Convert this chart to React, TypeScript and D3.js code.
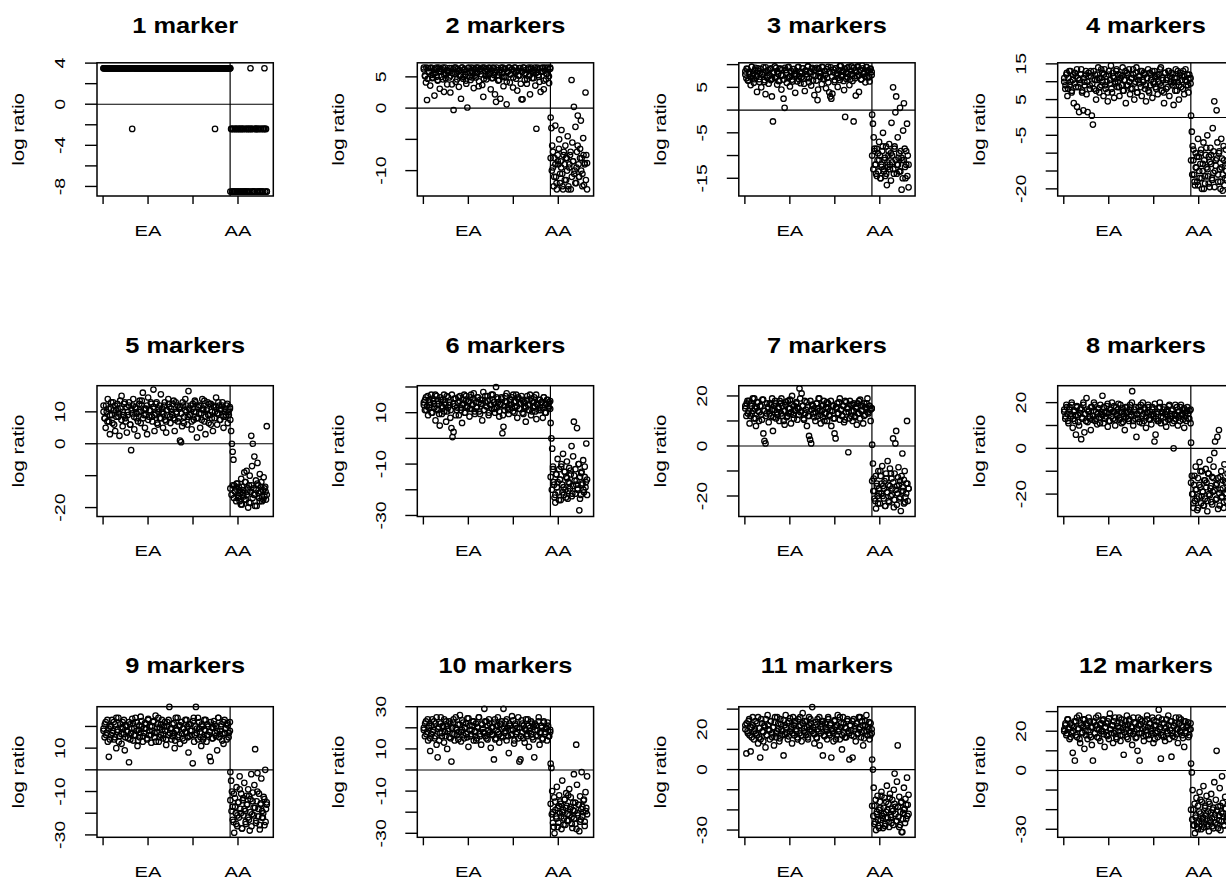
import React from "react";
import * as d3 from "d3";

// ---------- data ----------
const titles = ["1 marker", "2 markers", "3 markers", "4 markers", "5 markers", "6 markers",
  "7 markers", "8 markers", "9 markers", "10 markers", "11 markers", "12 markers"];

const xTickValues = [0, 100, 200, 300];
const xTickLabels = ["", "EA", "", "AA"];
const nEASamples = 282;
const nTotalSamples = 364;

const yLims: [number, number][] = [
  [-8.93, 4.03], [-14.06, 7.25], [-18.9, 10.4], [-22, 15.3],
  [-22.8, 18.2], [-30.4, 20.5], [-28.2, 24.1], [-29.8, 27.4],
  [-31.1, 29.1], [-31.9, 30], [-33.6, 31.2], [-34.1, 32.5],
];
const yTicks: number[][] = [
  [-8, -6, -4, -2, 0, 2, 4], [-10, -5, 0, 5], [-15, -10, -5, 0, 5, 10], [-20, -15, -10, -5, 0, 5, 10, 15],
  [-20, -10, 0, 10], [-30, -20, -10, 0, 10, 20], [-20, -10, 0, 10, 20], [-20, -10, 0, 10, 20],
  [-30, -20, -10, 0, 10, 20], [-30, -20, -10, 0, 10, 20, 30], [-30, -20, -10, 0, 10, 20, 30], [-30, -20, -10, 0, 10, 20, 30],
];
const yLabels: number[][] = [
  [4, 0, -4, -8], [5, 0, -10], [5, -5, -15], [15, 5, -5, -20],
  [10, 0, -20], [10, -10, -30], [20, 0, -20], [20, 0, -20],
  [10, -10, -30], [30, 10, -10, -30], [20, 0, -30], [20, 0, -30],
];

const runs = (r: [number, number][]) => r.flatMap(([v, c]) => Array(c).fill(v) as number[]);

// panel 1
const p1EA = runs([[3.5, 27], [-2.4, 1], [3.5, 77], [-2.4, 1], [3.5, 14]]);
const p1EAb = runs([[3.5, 100]]);
const p1AA = [3.5, -2.4, -8.5, -8.5, -2.4, -8.5, -2.4, -2.4, -8.5, -2.4, -8.5, -8.5, -2.4, -8.5, -2.4, -8.5,
  -2.4, -2.4, -8.5, -8.5, -2.4, -8.5, -2.4, -8.5, -8.5, -2.4, 3.5, -2.4, -8.5, -2.4, -8.5, -8.5, -2.4, -2.4,
  -8.5, -2.4, -8.5, -2.4, -8.5, -8.5, -2.4, -8.5, -2.4, -2.4, 3.5, -8.5, -2.4, -8.5];
const p1AAb = [-8.5, -2.4, -2.4, -8.5, -8.5, -2.4, -8.5, -2.4, -2.4, -8.5, -2.4, -8.5, -8.5, -2.4, -8.5, -2.4,
  -2.4, -8.5, -2.4, -8.5, -8.5, -2.4, -2.4, -8.5, -2.4, -8.5, -2.4, -8.5, -8.5, -2.4, -2.4, -8.5];

// panel 2
const p2EA = [6.5, 5.2, 4.1, 1.3, 6.4, 5.8, 3.6, 6.5, 4.8, 5.5, 2.0, 6.3, 5.0, 4.4, 6.5, 3.1, 5.9, 6.2, 4.6, 2.6,
  6.5, 5.4, 3.8, 6.0, 4.9, 2.5, 6.4, 5.6, -0.3, 6.5, 4.2, 5.7, 6.3, 3.4, 5.1, 1.5, 6.5, 4.7, 6.1, 5.3,
  3.9, 0.1, 6.4, 5.0, 4.5, 6.5, 5.8, 3.2, 6.2, 4.9, 5.6, 6.5, 4.3, 5.9, 6.3, 3.7, 1.8, 6.5, 5.2, 4.6,
  6.0, 5.5, 6.4, 3.0, 4.8, 6.5, 5.3, 2.2, 1.0, 6.1, 4.4, 5.7, 1.5, 6.5, 5.0, 3.5, 6.3, 4.9, 0.6, 5.8,
  6.5, 4.1, 5.4, 6.2, 3.3, 5.9, 6.5, 4.7, 2.8, 6.0, 5.2, 6.4, 1.4, 1.4, 6.5, 4.5, 5.6, 3.9, 6.3, 5.1,
  2.2, 6.5, 4.8, 5.7, 6.1, 3.6, -3.3, 6.5, 5.3, 4.2, 2.6, 6.4, 5.9, 3.0, 6.5, 4.6, 5.5, 6.2, 4.0, 6.5];
const p2EAb = [6.2, 5.1, 6.5, 4.7, 5.8, 6.4, 5.3, 4.9, 6.1, 5.6, 6.5, 4.5, 5.9, 6.3, 5.0, 6.5, 5.4, 4.8, 6.0, 5.7,
  6.4, 5.2, 3.8, 6.2, 5.5, 6.5, 4.6, 5.9, 6.1, 5.3, 6.5, 5.0, 6.3, 4.4, 5.8, 6.5, 5.6, 6.0, 4.9, 6.4,
  5.2, 6.5, 5.7, 3.5, 6.2, 5.4, 6.5, 4.7, 5.9, 6.3, 5.1, 6.5, 5.5, 6.0, 4.8, 6.4, 5.8, 6.5, 5.3, 4.5,
  6.1, 5.6, 6.5, 5.0, 6.3, 4.2, 5.9, 6.5, 5.4, 6.2, 4.9, 6.5, 5.7, 6.0, 5.2, 6.4, 3.9, 5.8, 6.5, 5.5,
  6.1, 4.6, 6.5, 5.3, 6.3, 5.9, 4.8, 6.5, 5.6, 6.2, 5.0, 6.4, 5.8, 6.5, 4.4, 6.0, 5.5, 6.5, 5.1, 6.3];
const p2AA = [-1.5, -3.2, -6, -9.5, -12.5, -8, -2.8, -11, -13, -7.5, -9, -5, -12, -8.5, -3.5, -10.5, -13, -7, -9, -6,
  -11.5, -8, -4.5, -12.5, -9.5, -7.5, -13, 4.5, -5.5, -8.5, 0.2, -10, -3, -12, -7, -1.2, -9, -11, -6.5, -2,
  -8, -10.5, -4.8, -12.3, -8.8, 2.5, -7.5, -13];
const p2AAb = [-8, -10, -7, -11, -9, -12, -8.5, -6.5, -10.5, -9.5, -12.5, -7.5, -11.5, -8, -10, -13, -9, -7, -11, -8.5,
  -10.5, -12, -9.5, -6, -11, -8, -10, -12.5, -7.5, -9, -11.5, -8.8];

// panel 3
const p3EA = [8.5, 7, 9, 6.5, 8, 5.5, 9.5, 7.5, 6, 8.8, 7.2, 4, 9.2, 6.8, 8.2, 5, 7.8, 9.4, 6.2, 3.5,
  8.6, 7.4, 5.8, 9, 6.6, 3, -2.5, 8.4, 7, 9.3, 5.6, 8, 6.4, 9.1, 4.5, 7.6, 2.5, 0.5, 8.8, 6,
  9.4, 7.2, 5.2, 8.3, 6.7, 9, 7.9, 3.8, 8.6, 6.3, 9.5, 7.5, 5.9, 8.1, 9.2, 6.9, 4.2, 8.7, 7.3, 9.6,
  6.1, 8.4, 5.4, 9.3, 7.7, 3.3, 8.9, 6.5, 2.2, 9.1, 7.4, 8.2, 5.7, 9.4, 6.8, 8.6, 4.8, 7.1, 9.5, 3.9,
  3, 2.5, 3.6, 8.3, 6.2, 9.2, 7.6, 5.1, 8.8, 6.6, 9.7, 7.3, 8.5, 4.4, -1.5, 6.9, 9.3, 8, 5.5, 7.8,
  9.6, 6.4, -2.5, 8.7, 3.2, 7.5, 9.4, 4, 8.9, 6.7, 9.8, 7.9, 8.4, 6.1, 9.5, 7.2, 8.8, 6.3, 9.1, 7.7];
const p3EAb = [7.8, 9.1, 6.5, 8.4, 7.2, 9.5, 8.0, 6.8, 9.3, 7.5, 8.7, 6.2, 9.0, 7.9, 8.3, 6.6, 9.4, 7.1, 8.8, 7.6,
  9.2, 6.9, 8.1, 9.6, 7.3, 8.5, 6.4, 9.1, 7.7, 8.9, 6.7, 9.3, 8.2, 7.0, 9.5, 7.4, 8.6, 6.3, 9.0, 8.0,
  7.6, 9.4, 6.8, 8.4, 7.2, 9.2, 5.8, 8.7, 7.9, 9.6, 7.0, 8.3, 9.1, 6.5, 8.8, 7.5, 9.3, 4.5, 8.1, 7.3,
  9.5, 6.9, 8.6, 7.8, 9.0, 6.1, 8.4, 9.4, 7.4, 8.9, 6.6, 9.2, 8.0, 7.1, 9.7, 7.7, 8.5, 6.4, 9.1, 8.2,
  7.3, 9.5, 6.7, 8.7, 7.9, 9.3, 7.0, 8.3, 9.6, 7.6, 8.8, 6.8, 9.2, 8.1, 7.4, 9.4, 8.6, 7.2, 9.0, 8.4];
const p3AA = [-1, -3, -6, -9, -12, -14, -8.5, -11, -13.5, -7, -10, -15, -12, -9, -5, -13, -11, -14.5, -8, -16.5,
  -12.5, -10, -7.5, -13, -9.5, -2.8, -11.5, 5, -14, -8, -0.5, 3, -12, -6, -10.5, -13.5, 0.5, -9, -17.5, -11,
  -4.5, 1.5, -8.5, -15, -12, -3, -10, -17];
const p3AAb = [-10, -13, -8.5, -12, -14.5, -9.5, -11, -15, -12.5, -8, -13.5, -10.5, -14, -11.5, -9, -12, -15.5, -10, -13, -8.5,
  -11, -14, -12, -9.5, -13.5, -10.5, -15, -11, -12.5, -9, -14.5, -12];

// panel 4
const p4EA = [10, 8, 12, 6, 11, 9, 13, 7, 10.5, 4, 12.5, 8.5, 3, 11, 1.5, 9.5, 13.5, 7.5, 2, 10,
  12, 6.5, 1.5, 11.5, 9, 13, 0.5, -2, 8, 12, 5, 10.5, 14, 7, 11, 9, 12.5, 6, 13.5, 8,
  10, 4.5, 12, 9.5, 14.5, 7, 11.5, 5.5, 10, 13, 8.5, 12, 6, 11, 9, 14, 7.5, 10.5, 4, 12.5,
  9, 13.5, 6.5, 11, 8, 12, 5, 10, 14, 7, 11.5, 9.5, 13, 6, 10.5, 12.5, 8, 4.5, 11, 13.5,
  7, 9, 12, 5.5, 10, 13, 8.5, 11.5, 6.5, 12, 9.5, 14, 7.5, 10.5, 4, 12.5, 8, 11, 13, 6,
  10, 12.5, 9, 3.5, 11, 13.5, 7.5, 10, 5, 12, 8.5, 11.5, 13, 6.5, 10.5, 9, 12, 7, 11, 9.5];
const p4EAb = [11, 9, 12.5, 8, 13, 10, 7.5, 12, 9.5, 11.5, 13.5, 8.5, 10.5, 12, 7, 11, 9, 13, 10, 12.5,
  8, 11.5, 9.5, 13, 10.5, 7.5, 12, 11, 8.5, 13.5, 10, 12, 9, 11.5, 7, 13, 10.5, 8, 12.5, 11,
  9.5, 13.5, 10, 8.5, 12, 11.5, 7.5, 10.5, 13, 9, 12, 10, 8, 11, 13.5, 9.5, 12.5, 7, 10.5, 11.5,
  8.5, 13, 10, 12, 9, 11, 7.5, 12.5, 10.5, 13, 9.5, 11.5, 8, 12, 10, 13.5, 9, 11, 7, 12.5,
  10.5, 8.5, 13, 11.5, 9.5, 12, 10, 7.5, 11, 13, 9, 12.5, 10.5, 8, 11.5, 13.5, 10, 9, 12, 11];
const p4AA = [0.5, -4, -8, -12, -16, -19, -10, -14, -18, -6, -11, -17, -13, -9, -20, -15, -7, -12, -18.5, -10.5,
  -14, -5, -16.5, -11, -19.5, -8.5, -13, -17, -3, -9.5, 4.5, -15, -12, 2, -7, -18, -10, -14.5, -20, -6,
  -11.5, -16, -8, -19, -13.5, -9, -17.5, -12];
const p4AAb = [-12, -16, -9, -18, -14, -11, -19, -15, -10, -17, -13, -20, -16.5, -8.5, -14.5, -18.5, -12.5, -10.5, -17.5, -15.5,
  -19.5, -13.5, -11.5, -16, -9.5, -18, -14, -20.5, -12, -17, -15, -13];

// panel 5
const p5EA = [12, 8, 5, 10, 14, 7, 3, 11, 9, 13, 6, 4, 10.5, 12.5, 8.5, 2.5, 11, 15, 5.5, 9,
  13, 7, 3.5, 10, 12, 6, -2, 9.5, 14, 4.5, 11.5, 8, 2.5, 10, 13.5, 6.5, 12, 16, 9, 5,
  11, 3, 14.5, 8.5, 10.5, 12.5, 7, 17, 4, 9.5, 13, 6, 11, 8, 15.5, 10, 5, 12, 7.5, 3.5,
  9, 14, 11.5, 6.5, 10, 12.5, 8, 4, 13, 9.5, 7, 11, 1, 0.5, 5.5, 12, 8.5, 14, 10, 6,
  16.5, 9, 12, 4.5, 11, 7.5, 13.5, 10, 2, 8, 12, 5, 9.5, 14, 11, 7, 3, 10.5, 13, 6.5,
  9, 12.5, 8, 4, 11.5, 10, 14.5, 6, 9.5, 12, 7.5, 11, 13, 5, 10, 8.5, 12, 6.5, 9, 11.5];
const p5EAb = [10, 8, 12, 7, 11, 9, 13, 6.5, 10.5, 12, 8.5, 11, 9.5, 13.5, 7.5, 10, 12.5, 8, 11.5, 9,
  13, 6, 10.5, 12, 8.5, 11, 9.5, 7, 12.5, 10, 13.5, 8, 11, 9, 12, 7.5, 10.5, 13, 8.5, 11.5,
  9, 12.5, 6.5, 10, 12, 8, 11, 9.5, 13, 7, 10.5, 12.5, 8.5, 11, 9, 13.5, 7.5, 10, 12, 8,
  11.5, 9.5, 13, 6.5, 10.5, 12, 8.5, 11, 9, 7, 12.5, 10, 13, 8, 11.5, 9.5, 12, 7.5, 10.5, 13.5,
  8.5, 11, 9, 12.5, 6, 10, 12, 8, 11.5, 9.5, 13, 7.5, 10.5, 12, 8.5, 11, 9, 12.5, 10, 11];
const p5AA = [7.5, 4, 0, -2.5, -5, -13, -15, -14, -12.5, -16, -17, -13.5, -18, -15.5, -11, -19, -14.5, -16.5, -9, -12,
  -17.5, -8.5, -15, -20, -13, -10, -18.5, 2.5, -7, 0, -14, -4, -16, -11.5, -19.5, -6, -13, -17, -9.5, -15,
  -12, -18, -14.5, -10.5, -16.5, -13.5, -17.5, 5.5];
const p5AAb = [-14, -16, -13, -17, -15, -18, -12.5, -16.5, -14.5, -19, -13.5, -15.5, -17.5, -12, -16, -14, -18.5, -15, -13, -17,
  -16, -19.5, -14.5, -12.5, -15.5, -18, -13.5, -16.5, -17.5, -14, -15, -16];

// panel 6
const p6EA = [14, 11, 16, 12.5, 9, 15, 13, 17, 10, 14.5, 12, 7, 16.5, 11, 13.5, 5, 15, 9.5, 12, 17,
  14, 6.5, 10.5, 16, 13, 8, 4, 0.5, 2.5, 12.5, 15.5, 11, 14, 9, 16.5, 12, 6, 13.5, 17, 10,
  15, 12, 14.5, 8.5, 16, 11.5, 13, 17.5, 9.5, 14, 12, 16, 10.5, 15, 13.5, 7, 18, 11, 14, 12.5,
  16.5, 9, 15, 13, 11.5, 17, 14, 10, 20, 12, 15.5, 8.5, 13, 16, 2, 4.5, 11, 14.5, 17.5, 12,
  9.5, 15, 13, 16, 10.5, 14, 12, 17, 8, 15.5, 11.5, 13.5, 16.5, 10, 14, 12.5, 6.5, 15, 13, 11,
  17, 9, 14.5, 12, 16, 10.5, 7.5, 13.5, 15, 12, 11, 14, 8, 16, 13, 10, 15, 12.5, 14, 11.5];
const p6EAb = [13, 15, 11, 16.5, 12, 14, 10, 15.5, 13.5, 17, 11.5, 14.5, 9.5, 16, 12.5, 15, 10.5, 13, 16.5, 12,
  14, 11, 17, 13.5, 15.5, 9, 12, 16, 14.5, 11, 13, 15, 10, 16.5, 12.5, 14, 11.5, 17, 13, 15.5,
  10.5, 12, 16, 14, 9.5, 13.5, 15, 11, 16.5, 12.5, 14.5, 10, 13, 17, 15, 11.5, 12, 16, 14, 10.5,
  13.5, 15.5, 9, 12.5, 16.5, 14, 11, 13, 15, 12, 17, 10, 14.5, 12.5, 16, 11.5, 13.5, 15, 9.5, 14,
  12, 16.5, 11, 13, 15.5, 10.5, 14, 12.5, 17, 13, 11, 15, 14, 12, 16, 10, 13.5, 15, 12, 14.5];
const p6AA = [6, 0, -4, -11, -17, -23, -25, -14, -19, -8, -21, -12, -16, -24, -10, -18, -6, -22, -13, -20,
  -15, -9, -23.5, -17, -11.5, -19.5, -14, -3, -21.5, -7, 6.5, -16.5, -12, -18, 4, -20, -10, -28, -15, -22,
  -13, -17.5, -8.5, -21, -11, -19, -2, -16];
const p6AAb = [-15, -20, -12, -18, -22, -14, -17, -24, -16, -11, -21, -19, -13, -23, -15.5, -20.5, -17.5, -12.5, -22.5, -18.5,
  -14.5, -21.5, -16.5, -19.5, -10, -23.5, -13.5, -18, -20, -15, -17, -22];

// panel 7
const p7EA = [16, 12, 18, 14, 9, 17, 13, 19, 11, 15, 8, 17.5, 14, 10, 16, 12.5, 18.5, 5, 2, 1,
  13, 15.5, 9.5, 17, 12, 14.5, 6, 16, 18, 11, 13.5, 15, 10, 17, 19, 12, 14, 8.5, 16.5, 11.5,
  18, 13, 15, 9, 20, 12.5, 16, 14, 17.5, 10.5, 15, 23, 13.5, 21, 16, 11, 18, 14.5, 8, 12,
  4, 2.5, 1, 16.5, 13, 15, 10, 17, 12, 19, 14, 9, 16, 11.5, 18, 13, 15.5, 10, 17, 12.5,
  14, 8, 16, 11, 5, 3, 15, 13, 17.5, 10.5, 14.5, 12, 16, 9.5, 18, 13.5, 15, -2.5, 11, 16.5,
  14, 10, 17, 12, 15.5, 8.5, 13, 18, 11, 16, 14.5, 9, 17, 12.5, 15, 19, 13, 16, 10, 15];
const p7EAb = [15, 17, 13, 18, 12, 16, 14, 19, 11, 15.5, 17.5, 13.5, 16, 10.5, 18.5, 14, 12, 17, 15, 13,
  16.5, 19, 11.5, 14.5, 17, 12.5, 15.5, 18, 13, 16, 10, 14, 17.5, 12, 15, 18.5, 13.5, 16.5, 11, 14.5,
  17, 15, 12.5, 19, 14, 16, 10.5, 13, 17.5, 15.5, 12, 18, 14.5, 16, 11.5, 13.5, 17, 15, 19, 12.5,
  14, 16.5, 10, 13, 17.5, 15, 12, 18, 14, 16, 11, 15.5, 17, 13, 19, 14.5, 12, 16, 10.5, 17.5,
  15, 13.5, 18, 12, 16.5, 14, 11.5, 15, 17, 13, 18.5, 14, 16, 12, 15.5, 17, 13.5, 16, 14.5, 15];
const p7AA = [0.5, -7, -13, -18, -22, -25, -15, -20, -10, -17, -23, -12, -19, -8, -16, -21, -14, -24, -11, -18.5,
  -6, -15.5, -22.5, -9, -20, -13, -17, 3, -24.5, -11, 1, 6, -16, -19, -8.5, -21, -14, -26, -12, -3,
  -18, -23, -10, -20.5, -15, 10, -22, -17];
const p7AAb = [-14, -18, -21, -12, -16, -23, -19, -10, -15, -20, -17, -24, -13, -18.5, -22, -16, -11, -19.5, -14.5, -21.5,
  -17.5, -23.5, -12.5, -15.5, -20.5, -18, -16.5, -13.5, -22.5, -19, -15, -17];

// panel 8
const p8EA = [17, 13, 19, 15, 11, 18, 14, 20, 9, 16, 12, 6, 18, 14.5, 10, 17, 4, 13, 19, 7,
  15, 22, 11.5, 16.5, 13, 8, 18, 14, 20, 12, 16, 10.5, 17.5, 13.5, 19, 15, 23, 11, 16, 14,
  18.5, 9.5, 15.5, 12, 17, 20, 13, 16, 10, 18, 14, 19.5, 12.5, 16, 11, 17.5, 15, 8, 13.5, 18,
  16, 12, 19, 14.5, 25, 10, 17, 13, 5, 15, 18, 11.5, 16.5, 14, 20, 12, 17, 9, 15.5, 19,
  13, 16, 10.5, 18, 14, 3, 6, 15, 12, 17.5, 20, 11, 16, 13.5, 18, 15, 9.5, 17, 12.5, 19,
  14, 16.5, 11, 0, 15, 13, 18, 10, 16, 12, 19, 14.5, 17, 9, 15.5, 12, 18, 13, 16.5, 11];
const p8EAb = [16, 14, 18, 12, 17, 15, 19, 13, 16.5, 14.5, 18.5, 11.5, 15.5, 17.5, 13.5, 20, 15, 12, 17, 16,
  14, 18, 12.5, 16.5, 19, 13, 15, 17.5, 11, 16, 14.5, 18, 13, 15.5, 19.5, 12, 17, 14, 16, 18.5,
  12.5, 15, 17, 13.5, 19, 16, 11.5, 14, 18, 15.5, 13, 17, 16, 20, 12, 14.5, 18, 15, 13, 16.5,
  19, 11, 15, 17.5, 13.5, 16, 18, 12.5, 14.5, 17, 15, 19.5, 13, 16, 12, 18, 14, 15.5, 17, 11.5,
  16, 14, 18.5, 13, 15, 17, 12, 19, 14.5, 16, 13.5, 18, 15, 12.5, 17.5, 14, 16.5, 15, 13, 17];
const p8AA = [2.5, -12, -20, -26, -16, -23, -8, -18, -27, -13, -21, -6, -17, -24, -10, -19, -25, -14, -22, -9,
  -15, -27.5, -11, -20, -5, -17.5, -23.5, -12.5, -19, -8, -2, 3, -16, -22, 5, -13, 8, -25, -18, -10,
  -21, -14, -26, -7, -19.5, -15, -23, -11];
const p8AAb = [-15, -20, -24, -12, -18, -22, -26, -16, -10, -21, -19, -25, -14, -17, -23, -11, -20.5, -16.5, -24.5, -13,
  -18.5, -22.5, -15.5, -26.5, -19.5, -12.5, -21.5, -17.5, -23.5, -14.5, -20, -18];

// panel 9
const p9EA = [19, 15, 22, 17, 13, 6, 20, 16, 23, 18, 14, 21, 10, 17.5, 24, 15.5, 19.5, 12, 22, 16.5,
  9, 20.5, 18, 14.5, 3.5, 21, 17, 23.5, 13.5, 19, 16, 22, 11, 18.5, 15, 24.5, 20, 13, 17, 21.5,
  19, 14, 23, 16, 20, 12.5, 18, 22.5, 15, 25, 17.5, 21, 13, 19.5, 16, 23, 14.5, 20, 18, 11.5,
  22, 16, 29, 19, 14, 21, 17, 10, 24, 18.5, 15, 20.5, 12, 22, 16.5, 19, 13.5, 23, 17, 20,
  8, 15.5, 21, 18, 3, 24, 16, 29, 19, 14, 22, 17.5, 11, 20, 15, 23, 18, 13, 21, 16,
  6, 4, 19.5, 14.5, 22.5, 17, 20, 9, 24, 15, 18, 21, 16.5, 12, 23, 19, 14, 20.5, 17, 22];
const p9EAb = [18, 21, 16, 23, 19, 14, 20, 17, 22, 15, 24, 18.5, 13, 21, 16.5, 19.5, 23, 15, 20, 17.5,
  22, 14, 19, 21.5, 16, 24, 18, 13.5, 20.5, 17, 22.5, 15.5, 19, 21, 14.5, 23.5, 18, 16, 20, 22,
  17, 13, 19.5, 24, 15, 21, 18.5, 16.5, 22, 14, 20, 23, 17, 19, 15.5, 21.5, 13.5, 18, 24, 16,
  20.5, 22, 14.5, 19, 17.5, 23, 15, 21, 18, 16, 22.5, 13, 20, 17, 24, 19, 15, 21, 14, 18.5,
  23, 16, 20, 17.5, 22, 14.5, 19.5, 21, 15.5, 18, 24, 16.5, 20, 13.5, 22, 17, 19, 21.5, 15, 18];
const p9AA = [-1, -5, -10, -17, -24, -29, -13, -20, -8, -26, -15, -22, -3, -18, -11, -27, -14, -21, -6, -19,
  -25, -12, -16, -9, -23, -28, -13.5, -2, -20.5, -10.5, -17.5, -7, 9.5, -24.5, -14.5, -1.5, -21.5, -11, -27.5, -16,
  -4, -19, -22, -12.5, -25.5, 0, -18, -15];
const p9AAb = [-14, -19, -23, -11, -17, -25, -21, -15, -9, -20, -27, -13, -18, -24, -16, -22, -12, -19.5, -26, -14.5,
  -21, -17.5, -23.5, -10, -18, -25.5, -15.5, -22, -20, -13.5, -24, -16];

// panel 10
const p10EA = [20, 16, 23, 18, 14, 21, 9, 17, 24, 19, 15, 22, 12, 6, 20.5, 17.5, 25, 16, 21, 13,
  18, 23, 10, 19.5, 15.5, 22, 4, 17, 24, 14, 20, 16.5, 21.5, 18, 26, 13.5, 19, 22.5, 15, 20,
  17, 24.5, 11, 21, 16, 19, 23, 14, 18.5, 22, 15, 20, 25, 17, 12, 21.5, 18, 29, 16, 23,
  14.5, 19, 22, 10.5, 17, 20.5, 5, 24, 15, 21, 18, 13, 22, 16, 19.5, 29, 17.5, 23, 14, 20,
  8, 21, 16.5, 25.5, 19, 12.5, 22, 17, 20, 15, 4, 5, 23.5, 18, 21, 13, 19, 16, 24, 11,
  20, 17, 22, 14.5, 6, 19, 21, 16, 23, 12, 18, 20, 15, 22.5, 17, 19.5, 14, 21, 16, 18];
const p10EAb = [19, 22, 17, 24, 20, 15, 21, 18, 23, 16, 25, 19.5, 14, 22, 17.5, 20.5, 24, 16, 21, 18.5,
  23, 15, 20, 22.5, 17, 25, 19, 14.5, 21.5, 18, 23.5, 16.5, 20, 22, 15.5, 24.5, 19, 17, 21, 23,
  18, 14, 20.5, 25, 16, 22, 19.5, 17.5, 23, 15, 21, 24, 18, 20, 16.5, 22.5, 14.5, 19, 25, 17,
  21.5, 23, 15.5, 20, 18.5, 24, 16, 22, 19, 17, 23.5, 14, 21, 18, 25, 20, 16, 22, 15, 19.5,
  24, 17, 21, 18.5, 23, 15.5, 20.5, 22, 16.5, 19, 25, 17.5, 21, 14.5, 23, 18, 20, 22.5, 16, 19];
const p10AA = [3, 1, -10, -20, -27, -30, -15, -22, -8, -18, -25, -12, -20.5, -16, -28, -5, -19, -23, -14, -26,
  -11, -17, -21, -24, -9, -18.5, -13, -22.5, -27.5, -15.5, -2, -19.5, -25.5, 12, -7, -21.5, -16.5, -29, -12.5, -23.5,
  -1, -17.5, -20, -14, -24.5, -10.5, -18, -3];
const p10AAb = [-16, -21, -25, -13, -19, -23, -27, -17, -15, -22, -20, -26, -14, -18, -24, -12, -21.5, -17.5, -25.5, -19,
  -23, -15.5, -28, -20.5, -16.5, -24.5, -18.5, -22, -14.5, -26.5, -19.5, -21];

// panel 11
const p11EA = [22, 8, 19, 24, 17, 9, 21, 26, 15, 20, 18, 23, 13, 16, 6, 25, 19, 14, 22, 11,
  17, 27, 20, 15, 24, 18, 21, 12, 26, 16, 19, 23, 14, 25, 20, 17, 7, 22, 27, 18,
  15, 24, 19, 21, 13, 26, 17, 23, 20, 16, 25, 18, 22, 14, 28, 19, 24, 17, 21, 15,
  26, 20, 23, 31, 18, 13, 22, 16, 25, 19, 12, 21, 24, 7, 17, 23, 20, 15, 26, 18,
  22, 6, 19, 14, 24, 21, 17, 27, 20, 15, 23, 10, 26, 18, 21, 16, 24, 19, 5, 22,
  17, 6, 25, 20, 14, 23, 18, 26, 21, 16, 24, 12, 19, 22, 27, 17, 20, 15, 23, 18];
const p11EAb = [20, 23, 18, 25, 21, 16, 22, 19, 24, 17, 26, 20.5, 15, 23, 18.5, 21.5, 25, 17, 22, 19.5,
  24, 16, 21, 23.5, 18, 26, 20, 15.5, 22.5, 19, 24.5, 17.5, 21, 23, 16.5, 25.5, 20, 18, 22, 24,
  19, 15, 21.5, 26, 17, 23, 20.5, 18.5, 24, 16, 22, 25, 19, 21, 17.5, 23.5, 15.5, 20, 26, 18,
  22.5, 24, 16.5, 21, 19.5, 25, 17, 23, 20, 18, 24.5, 15, 22, 19, 26, 21, 17, 23, 16, 20.5,
  25, 18, 22, 19.5, 24, 16.5, 21.5, 23, 17.5, 20, 26, 18.5, 22, 15.5, 24, 19, 21, 23.5, 17, 20];
const p11AA = [5, 0, -9, -18, -26, -30, -22, -13, -28, -20, -16, -25, -11, -23, -29, -19, -14, -27, -21, -8,
  -24, -17, -28.5, -12, -22.5, -26.5, -15, -20.5, -10, -2, -18.5, -25.5, -6, 12, -23.5, -13.5, -27.5, -16.5, -31, -31,
  -21.5, -9, -19.5, -14.5, -24.5, -4, -17.5, -12.5];
const p11AAb = [-18, -23, -27, -15, -21, -25, -29, -19, -13, -24, -22, -28, -16, -20, -26, -14, -23.5, -19.5, -27.5, -17,
  -22, -25.5, -18.5, -28.5, -21, -16, -24.5, -20, -26.5, -17.5, -23, -22];

// panel 12
const p12EA = [20, 23, 18, 26, 21, 16, 24, 19, 9, 22, 5, 25, 17, 21, 28, 14, 23, 19, 26, 11,
  20, 24, 16, 27, 18, 22, 13, 5, 25, 19, 23, 17, 28, 21, 15, 24, 20, 26, 12, 22,
  18, 25, 16, 29, 21, 23, 14, 19, 27, 17, 24, 20, 22, 15, 26, 18, 8, 23, 21, 28,
  16, 25, 19, 22, 13, 27, 20, 24, 17, 10, 23, 5, 26, 19, 21, 15, 25, 18, 28, 22,
  16, 24, 20, 27, 14, 23, 19, 25, 17, 31, 21, 6, 26, 18, 24, 15, 22, 20, 28, 16,
  25, 7, 19, 23, 17, 27, 21, 14, 24, 20, 26, 18, 22, 12, 25, 19, 23, 17, 21, 24];
const p12EAb = [21, 24, 19, 26, 22, 17, 23, 20, 25, 18, 27, 21.5, 16, 24, 19.5, 22.5, 26, 18, 23, 20.5,
  25, 17, 22, 24.5, 19, 27, 21, 16.5, 23.5, 20, 25.5, 18.5, 22, 24, 17.5, 26.5, 21, 19, 23, 25,
  20, 16, 22.5, 27, 18, 24, 21.5, 19.5, 25, 17, 23, 26, 20, 22, 18.5, 24.5, 16.5, 21, 27, 19,
  23.5, 25, 17.5, 22, 20.5, 26, 18, 24, 21, 19, 25.5, 16, 23, 20, 27, 22, 18, 24, 17, 21.5,
  26, 19, 23, 20.5, 25, 17.5, 22.5, 24, 18.5, 21, 27, 19.5, 23, 16.5, 25, 20, 22, 24.5, 18, 21];
const p12AA = [3.5, -1, -10, -20, -28, -32, -24, -14, -29, -18, -26, -11, -22, -30, -16, -25, -8, -27, -19, -23,
  -13, -28.5, -21, -31, -17, -26.5, -12, -24.5, -20, -29.5, -6, -22.5, -15, 10, -27.5, -18.5, -25.5, -9, -30.5, -21.5,
  -3, -16.5, -23.5, -28, -13.5, -19.5, -26, -24];
const p12AAb = [-20, -25, -28, -17, -23, -27, -30, -21, -15, -26, -24, -29, -18, -22, -27.5, -16, -25.5, -21.5, -28.5, -19,
  -24, -26.5, -20.5, -29.5, -23, -18, -26, -22, -28, -19.5, -25, -24];

const eaSets = [[p1EAb, p1EA], [p2EAb, p2EA], [p3EAb, p3EA], [p4EAb, p4EA], [p5EAb, p5EA], [p6EAb, p6EA],
  [p7EAb, p7EA], [p8EAb, p8EA], [p9EAb, p9EA], [p10EAb, p10EA], [p11EAb, p11EA], [p12EAb, p12EA]];
const aaSets = [[p1AAb, p1AA], [p2AAb, p2AA], [p3AAb, p3AA], [p4AAb, p4AA], [p5AAb, p5AA], [p6AAb, p6AA],
  [p7AAb, p7AA], [p8AAb, p8AA], [p9AAb, p9AA], [p10AAb, p10AA], [p11AAb, p11AA], [p12AAb, p12AA]];

// ---------- layout ----------
const W = 1226, H = 878;
const COL_LEFT = [97, 417.3, 738.8, 1057.7];
const ROW_TOP = [62.8, 385.7, 706.7];
const ROW_H = [133.2, 130.8, 130.6];
const TITLE_GAP = [30, 32.5, 33.5];
const BOX_W = 176.3;
const FONT = "'Liberation Sans', Arial, Helvetica, sans-serif";

function Panel({ k }: { k: number }) {
  const row = Math.floor(k / 4), col = k % 4;
  const left = COL_LEFT[col], top = ROW_TOP[row], h = ROW_H[row];
  const ext = 0.04 * (nTotalSamples - 1);
  const x = d3.scaleLinear().domain([1 - ext, nTotalSamples + ext]).range([left, left + BOX_W]);
  const y = d3.scaleLinear().domain(yLims[k]).range([top + h, top]);
  const eaIdx = (i: number, n: number) => 1 + (i * (nEASamples - 1)) / (n - 1);
  const aaIdx = (j: number, n: number) => nEASamples + 1 + (j * (nTotalSamples - nEASamples - 1)) / (n - 1);
  const bottom = top + h;
  const cx = left + BOX_W / 2;
  const cy = top + h / 2;
  return (
    <g>
      {/* points */}
      <g fill="none" stroke="#000" strokeWidth={1.3}>
        {eaSets[k].map((arr, s) =>
          arr.map((v, i) => <circle key={`e${s}-${i}`} cx={x(eaIdx(i, arr.length))} cy={y(v)} r={2.7} />)
        )}
        {aaSets[k].map((arr, s) =>
          arr.map((v, j) => <circle key={`a${s}-${j}`} cx={x(aaIdx(j, arr.length))} cy={y(v)} r={2.7} />)
        )}
      </g>
      {/* reference lines */}
      <line x1={left} x2={left + BOX_W} y1={y(0)} y2={y(0)} stroke="#000" strokeWidth={1.1} />
      <line x1={x(nEASamples + 0.5)} x2={x(nEASamples + 0.5)} y1={top} y2={bottom} stroke="#000" strokeWidth={1.2} />
      {/* box */}
      <rect x={left} y={top} width={BOX_W} height={h} fill="none" stroke="#000" strokeWidth={1.5} />
      {/* x axis */}
      <g stroke="#000" strokeWidth={1.4}>
        {xTickValues.map((t) => (
          <line key={t} x1={x(t)} x2={x(t)} y1={bottom} y2={bottom + 8} />
        ))}
      </g>
      {xTickValues.map((t, i) =>
        xTickLabels[i] ? (
          <text key={"xl" + t} transform={`translate(${x(t)},${bottom + 39.5}) scale(1.3,1)`} textAnchor="middle"
            fontFamily={FONT} fontSize={15.5} fill="#000">{xTickLabels[i]}</text>
        ) : null
      )}
      {/* y axis */}
      <g stroke="#000" strokeWidth={1.4}>
        {yTicks[k].map((t) => (
          <line key={t} x1={left - 12} x2={left} y1={y(t)} y2={y(t)} />
        ))}
      </g>
      {yLabels[k].map((t) => (
        <text key={"yl" + t} transform={`translate(${left - 37},${y(t)}) rotate(-90) scale(1.35,1)`} textAnchor="middle"
          dy="0.36em" fontFamily={FONT} fontSize={14.5} fill="#000">{t}</text>
      ))}
      <text transform={`translate(${left - 78},${cy}) rotate(-90) scale(1.28,1)`} textAnchor="middle" dy="0.3em"
        fontFamily={FONT} fontSize={16} fill="#000">log ratio</text>
      {/* title */}
      <text transform={`translate(${cx},${top - TITLE_GAP[row]}) scale(1.18,1)`} textAnchor="middle" fontFamily={FONT}
        fontWeight="bold" fontSize={21.5} fill="#000">{titles[k]}</text>
    </g>
  );
}

export default function App() {
  return (
    <svg width={W} height={H} style={{ position: "absolute", left: 0, top: 0 }}>
      <rect width={W} height={H} fill="#fff" />
      {titles.map((_, k) => (
        <Panel key={k} k={k} />
      ))}
    </svg>
  );
}
